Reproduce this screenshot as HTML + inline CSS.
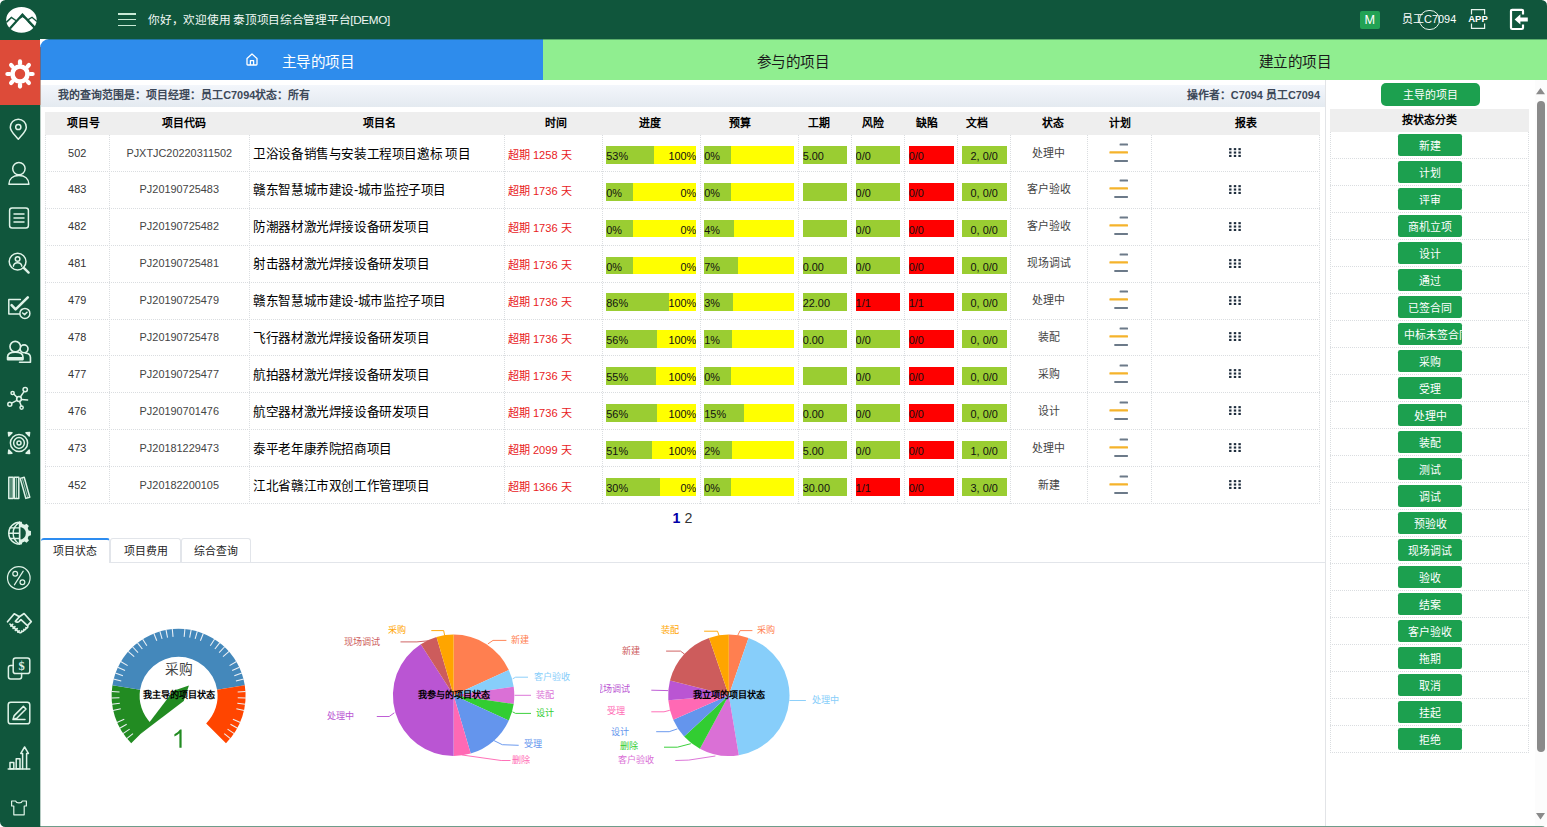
<!DOCTYPE html>
<html lang="zh-CN"><head><meta charset="utf-8"><title>泰顶项目综合管理平台</title>
<style>
html,body{margin:0;padding:0;background:#fff;}
body{width:1547px;height:827px;overflow:hidden;position:relative;font-family:"Liberation Sans",sans-serif;font-size:10.9px;color:#333;}
#app{position:absolute;left:0;top:0;width:1547px;height:827px;border-radius:5.5px;overflow:hidden;background:#fff;}
.abs{position:absolute;}
#hdr{position:absolute;left:0;top:0;width:1547px;height:39px;background:#10563c;}
#side{position:absolute;left:0;top:39px;width:40px;height:788px;background:#10563c;}
#act{position:absolute;left:0;top:39.8px;width:40px;height:65.2px;background:#dd4b39;}
#main{position:absolute;left:40px;top:39px;width:1507px;height:788px;background:#fff;border-top-left-radius:9px;overflow:hidden;}
.tab{position:absolute;top:0;height:40.8px;line-height:47.2px;font-size:14.6px;letter-spacing:-0.5px;text-align:center;white-space:nowrap;}
#info{position:absolute;left:0.6px;top:46px;width:1284.4px;height:21.5px;background:linear-gradient(#f3f6fb,#e4eaf0);font-weight:bold;font-size:10.9px;color:#3c4858;line-height:20.8px;white-space:nowrap;}
.th{position:absolute;top:0;height:23px;line-height:22.3px;font-weight:bold;color:#000;font-size:10.9px;text-align:center;white-space:nowrap;transform:translateX(-50%);}
.row{position:absolute;left:0;width:1275px;height:36.9px;}
.c{position:absolute;top:0;height:36.9px;line-height:37.7px;white-space:nowrap;overflow:hidden;}
.ctr{text-align:center;}
.bar{position:absolute;top:11.3px;height:17.8px;line-height:21.4px;font-size:10.9px;color:#111;white-space:nowrap;overflow:hidden;}
.g{background:#9acd32;} .y{background:#ffff00;} .r{background:#ff0000;}
.hl{position:absolute;left:0;height:0;border-top:1px dotted #dadde0;}
.vl{position:absolute;width:0;border-left:1px dotted #dadde0;}
.btn{position:absolute;background:#1ca04f;color:#fff;border-radius:2.2px;text-align:center;font-size:10.9px;white-space:nowrap;overflow:hidden;}
.stab{position:absolute;top:0;height:23.6px;line-height:24.6px;text-align:center;font-size:10.9px;color:#222;box-sizing:border-box;border:1px solid #e2e5ea;border-bottom:none;border-radius:3px 3px 0 0;background:#fff;white-space:nowrap;}
svg{position:absolute;overflow:visible;}
.pl{font-size:9.1px;white-space:nowrap;position:absolute;line-height:10px;height:10px;}
</style></head><body><div id="app">

<div id="hdr">
<svg style="left:0;top:0" width="42" height="40" viewBox="0 0 42 40">
<ellipse cx="21.45" cy="19.85" rx="15.3" ry="12.85" fill="#fff"/>
<g fill="none" stroke="#10563c" stroke-linejoin="miter">
<path d="M9.9 28.4 L22.45 14.6 L34.6 27.6" stroke-width="2.3"/>
<path d="M21.2 15.6 L22.45 13.9 L23.8 15.7 L24.6 18.2 L22.5 16.9 L20.3 18.4 Z" fill="#10563c" stroke-width="0.6"/>
<path d="M6.3 22.4 L11.4 17.5 L16.6 21" stroke-width="1.5"/>
<path d="M27.9 19.9 L32 17.3 L36.9 21.6" stroke-width="1.3"/>
<path d="M28.2 21.2 L33.4 26.2" stroke-width="1.6"/>
</g>
</svg>
<div class="abs" style="left:118.4px;top:13.3px;width:18px;height:1.4px;background:#c9ead6"></div>
<div class="abs" style="left:118.4px;top:19px;width:18px;height:1.4px;background:#c9ead6"></div>
<div class="abs" style="left:118.4px;top:24.6px;width:18px;height:1.4px;background:#c9ead6"></div>
<div class="abs" style="left:148.4px;top:0;height:39px;line-height:39px;color:#f1f8f4;font-size:11.7px;letter-spacing:-0.3px;white-space:nowrap">你好，欢迎使用 泰顶项目综合管理平台[DEMO]</div>
<div class="abs" style="left:1359.6px;top:10.8px;width:20.6px;height:18px;background:#22a254;border-radius:2px;color:#fff;font-size:12.7px;line-height:18.5px;text-align:center">M</div>
<div class="abs" style="left:1402.1px;top:0;height:39px;line-height:38.6px;color:#fff;font-size:10.9px;white-space:nowrap">员工C7094</div>
<div class="abs" style="left:1419.2px;top:9.6px;width:18.4px;height:18.4px;border:1px solid #e8f5ee;border-radius:50%"></div>
<svg style="left:1467px;top:8px" width="23" height="22" viewBox="0 0 23 22">
<path d="M4.5 6.5 V1.6 H17.6 V6.5 M4.5 15.5 V20.4 H17.6 V15.5" fill="none" stroke="#e8f5ee" stroke-width="1.2"/>
<text x="11" y="14" font-family="Liberation Sans, sans-serif" font-size="8.6" font-weight="bold" fill="#fff" text-anchor="middle" textLength="19.5" lengthAdjust="spacingAndGlyphs">APP</text>
</svg>
<svg style="left:1509px;top:8px" width="20" height="23" viewBox="0 0 20 23">
<path d="M14 6.6 V3 Q14 1.8 12.8 1.8 H3.2 Q2 1.8 2 3 V19.8 Q2 21 3.2 21 H12.8 Q14 21 14 19.8 V16.4" fill="none" stroke="#fff" stroke-width="2.2"/>
<path d="M5.6 11.4 L11.4 6.2 V9.4 H18.8 V13.4 H11.4 V16.6 Z" fill="#fff"/>
</svg>
</div>
<div id="side"></div><div id="act"></div>
<svg style="left:6.9px;top:60.5px" width="26" height="26" viewBox="0 0 26 26"><rect x="10.9" y="-1.7" width="4.2" height="6.4" rx="2.1" fill="#fff" stroke="none" transform="rotate(0 13 13)"/><rect x="10.9" y="-1.7" width="4.2" height="6.4" rx="2.1" fill="#fff" stroke="none" transform="rotate(45 13 13)"/><rect x="10.9" y="-1.7" width="4.2" height="6.4" rx="2.1" fill="#fff" stroke="none" transform="rotate(90 13 13)"/><rect x="10.9" y="-1.7" width="4.2" height="6.4" rx="2.1" fill="#fff" stroke="none" transform="rotate(135 13 13)"/><rect x="10.9" y="-1.7" width="4.2" height="6.4" rx="2.1" fill="#fff" stroke="none" transform="rotate(180 13 13)"/><rect x="10.9" y="-1.7" width="4.2" height="6.4" rx="2.1" fill="#fff" stroke="none" transform="rotate(225 13 13)"/><rect x="10.9" y="-1.7" width="4.2" height="6.4" rx="2.1" fill="#fff" stroke="none" transform="rotate(270 13 13)"/><rect x="10.9" y="-1.7" width="4.2" height="6.4" rx="2.1" fill="#fff" stroke="none" transform="rotate(315 13 13)"/><circle cx="13" cy="13" r="7.5" fill="none" stroke="#fff" stroke-width="4.6"/></svg>
<svg style="left:6.1px;top:114.0px" width="26" height="26" viewBox="0 0 26 26" fill="none" stroke="#dff3e8" stroke-width="1.5" stroke-linecap="round" stroke-linejoin="round"><path d="M12.3 25.2 C8 20.2 4.3 17.2 4.3 13.2 A8 8 0 0 1 20.3 13.2 C20.3 17.2 16.6 20.2 12.3 25.2 Z"/><circle cx="12.3" cy="13" r="2.6"/></svg>
<svg style="left:6.1px;top:160.0px" width="26" height="26" viewBox="0 0 26 26" fill="none" stroke="#dff3e8" stroke-width="1.5" stroke-linecap="round" stroke-linejoin="round"><circle cx="12.9" cy="8.6" r="6.2"/><path d="M2.9 24.2 C3.1 18.8 7 15.6 12.9 15.6 C18.8 15.6 22.7 18.8 22.9 24.2 Z"/></svg>
<svg style="left:6.1px;top:205.0px" width="26" height="26" viewBox="0 0 26 26" fill="none" stroke="#dff3e8" stroke-width="1.5" stroke-linecap="round" stroke-linejoin="round"><rect x="3.6" y="3" width="18.8" height="20" rx="2.5"/><path d="M8 9 H18 M8 13 H18 M8 17 H18"/></svg>
<svg style="left:6.1px;top:250.0px" width="26" height="26" viewBox="0 0 26 26" fill="none" stroke="#dff3e8" stroke-width="1.5" stroke-linecap="round" stroke-linejoin="round"><circle cx="11.6" cy="11.6" r="8.4"/><path d="M17.8 17.8 L22.6 22.6" stroke-width="2.4"/><circle cx="11.6" cy="9" r="2.3"/><path d="M7.4 16.2 C7.8 13.6 9.4 12.8 11.6 12.8 C13.8 12.8 15.4 13.6 15.8 16.2"/></svg>
<svg style="left:6.1px;top:295.0px" width="26" height="26" viewBox="0 0 26 26" fill="none" stroke="#dff3e8" stroke-width="1.5" stroke-linecap="round" stroke-linejoin="round"><path d="M15.6 14.6 V19 H2.8 V4.6 H14.4"/><path d="M5.6 10.2 L9.6 14.4 L21.8 2.4" stroke-width="2.6"/><circle cx="18.9" cy="18.4" r="5" fill="#10563c"/><path d="M16.6 18 L18.6 19.6 L21 17.2"/></svg>
<svg style="left:6.1px;top:340.0px" width="26" height="26" viewBox="0 0 26 26" fill="none" stroke="#dff3e8" stroke-width="1.5" stroke-linecap="round" stroke-linejoin="round"><g transform="translate(13 13) scale(1.1) translate(-13 -13.4)"><circle cx="17.6" cy="9.6" r="3.6"/><path d="M13.5 21.8 H23.4 V17.6 C23.4 15 21.6 13.6 19 13.6"/><circle cx="9.6" cy="7.6" r="4.8" fill="#10563c"/><path d="M2.6 19.4 V17 C2.6 14 5.4 12.6 9.6 12.6 C13.8 12.6 16.6 14 16.6 17 V19.4 Z" fill="#10563c"/><path d="M3 18 H16.2" stroke-width="1.8"/></g></svg>
<svg style="left:6.1px;top:385.0px" width="26" height="26" viewBox="0 0 26 26" fill="none" stroke="#dff3e8" stroke-width="1.5" stroke-linecap="round" stroke-linejoin="round"><circle cx="13" cy="14" r="2.4"/><circle cx="19.2" cy="4.6" r="2.2"/><circle cx="6.6" cy="8" r="1.6"/><circle cx="3.8" cy="19.2" r="2"/><circle cx="15.6" cy="22.6" r="1.6"/><path d="M14.4 12 L18 6.6 M11.2 12.6 L7.8 9 M11 15.4 L5.6 18.2 M13.6 16.4 L15.2 21 M15.4 14.4 L21.6 15"/></svg>
<svg style="left:6.1px;top:430.0px" width="26" height="26" viewBox="0 0 26 26" fill="none" stroke="#dff3e8" stroke-width="1.5" stroke-linecap="round" stroke-linejoin="round"><circle cx="13" cy="13" r="8.6"/><circle cx="13" cy="13" r="5.4"/><circle cx="13" cy="13" r="2"/><path d="M2.4 2.4 L6 2.8 L2.8 6 Z M23.6 2.4 L20 2.8 L23.2 6 Z M2.4 23.6 L6 23.2 L2.8 20 Z M23.6 23.6 L20 23.2 L23.2 20 Z" fill="#dff3e8"/></svg>
<svg style="left:6.1px;top:475.0px" width="26" height="26" viewBox="0 0 26 26" fill="none" stroke="#dff3e8" stroke-width="1.5" stroke-linecap="round" stroke-linejoin="round"><rect x="2.8" y="2.2" width="4.4" height="21.4"/><rect x="8.4" y="2.2" width="4.4" height="21.4"/><path d="M14.2 3.4 L18.2 2.2 L23.8 22.2 L19.8 23.4 Z"/><path d="M5 3 V23 M10.6 3 V23 M16.4 3.6 L21.6 22.4" stroke-width="0.9" opacity="0.75"/></svg>
<svg style="left:6.1px;top:520.0px" width="26" height="26" viewBox="0 0 26 26" fill="none" stroke="#dff3e8" stroke-width="1.2" stroke-linecap="round" stroke-linejoin="round"><g transform="translate(13.6 13.2) scale(1.16) translate(-13 -13)"><path d="M13 3.6 A9.4 9.4 0 0 0 13 22.4 Z"/><path d="M13 3.6 V22.4 M3.6 13 H13 M4.8 8.4 H13 M4.8 17.6 H13 M13 3.6 C9 6 7.4 9.6 7.4 13 C7.4 16.4 9 20 13 22.4"/><path d="M13 3.2 H14.8 L15.4 5 L17.4 5.8 L19 4.8 L21 6.8 L20 8.6 L20.8 10.6 L22.8 11.2 V14.8 L20.8 15.4 L20 17.4 L21 19.2 L19 21.2 L17.4 20.2 L15.4 21 L14.8 22.8 H13 V18.4 A5.4 5.4 0 0 0 13 7.6 Z" fill="#dff3e8" stroke="none"/></g></svg>
<svg style="left:6.1px;top:565.0px" width="26" height="26" viewBox="0 0 26 26" fill="none" stroke="#dff3e8" stroke-width="1.2" stroke-linecap="round" stroke-linejoin="round"><circle cx="12.8" cy="13" r="11.3"/><circle cx="9.2" cy="8.8" r="2.4"/><circle cx="16.4" cy="17.2" r="2.4"/><path d="M17.2 6.2 L8.4 19.8"/></svg>
<svg style="left:6.1px;top:610.0px" width="26" height="26" viewBox="0 0 26 26" fill="none" stroke="#dff3e8" stroke-width="1.5" stroke-linecap="round" stroke-linejoin="round"><g transform="translate(13.4 13.4) scale(1.12) translate(-13 -13)"><path d="M2.4 11.6 L8.4 4.4 L13 7 L17.2 4.2 L23.6 11.4 L20.6 14.6"/><path d="M13 7 L9.4 11.2 C10.6 12.4 12.2 12 13.2 10.8 L14.4 9.6 L20.4 15.2 C21 16.4 19.8 17.4 18.8 16.8 C19.4 18 18 19 17 18.4 C17.4 19.6 16.2 20.6 15 19.8 C15.2 21 14 21.8 12.8 21 L4.6 13.6"/><path d="M5.4 15.4 L7 13.8 M7.4 17.4 L9 15.8 M9.4 19.2 L11 17.6 M11.6 20.8 L12.8 19.6"/></g></svg>
<svg style="left:6.1px;top:655.0px" width="26" height="26" viewBox="0 0 26 26" fill="none" stroke="#dff3e8" stroke-width="1.5" stroke-linecap="round" stroke-linejoin="round"><rect x="7.2" y="3" width="16.6" height="15.6" rx="2.4"/><path d="M7.2 10.6 H4.6 Q2.4 10.6 2.4 12.8 V21.8 Q2.4 24 4.6 24 H13.4 Q15.6 24 15.6 21.8 V18.6"/><text x="15.5" y="15.2" font-family="Liberation Serif, serif" font-size="12.5" font-weight="bold" fill="#dff3e8" stroke="none" text-anchor="middle">$</text></svg>
<svg style="left:6.1px;top:700.0px" width="26" height="26" viewBox="0 0 26 26" fill="none" stroke="#dff3e8" stroke-width="1.5" stroke-linecap="round" stroke-linejoin="round"><rect x="2.2" y="2.2" width="21.6" height="21.6" rx="2.6" stroke-width="1.5"/><path d="M7 19.4 L8.2 15.6 L17.4 6.4 L20 9 L10.8 18.2 Z M7 19.4 H19"/></svg>
<svg style="left:6.1px;top:745.0px" width="26" height="26" viewBox="0 0 26 26" fill="none" stroke="#dff3e8" stroke-width="1.5" stroke-linecap="round" stroke-linejoin="round"><path d="M2.2 24 H23.8"/><rect x="4" y="17.4" width="3.8" height="6.4"/><rect x="10.2" y="13.8" width="3.8" height="10"/><path d="M16.6 23.8 V8.4 H14.8 L18.6 2 L22.4 8.4 H20.6 V23.8"/></svg>
<svg style="left:6.1px;top:794.0px" width="26" height="26" viewBox="0 0 26 26" fill="none" stroke="#dff3e8" stroke-width="1.2" stroke-linecap="round" stroke-linejoin="round"><path d="M5.6 7 H9.6 C10.4 9.6 15.6 9.6 16.4 7 H20.4 V12 H18.2 V20.8 H7.8 V12 H5.6 Z"/></svg>
<div id="main">
<div class="tab" style="left:0;width:503px;background:#2e8cec;color:#fff"><span class="abs" style="left:241.6px">主导的项目</span></div>
<svg style="left:206.1px;top:14px" width="12" height="13" viewBox="0 0 12 13" fill="none" stroke="#fff" stroke-width="1.3" stroke-linejoin="round"><path d="M1 5.4 L6 1 L11 5.4 V11.2 Q11 12 10.2 12 H1.8 Q1 12 1 11.2 Z"/><path d="M4.4 12 V7.6 H7.6 V12"/></svg>
<div class="tab" style="left:503px;width:502px;background:#90ee90;color:#1a1a1a;text-indent:-1.6px">参与的项目</div>
<div class="tab" style="left:1005px;width:502px;background:#90ee90;color:#1a1a1a;text-indent:-1.6px">建立的项目</div>
<div id="info"><span class="abs" style="left:17.6px">我的查询范围是：项目经理：员工C7094状态：所有</span><span class="abs" style="right:5px">操作者：C7094 员工C7094</span></div>
<div class="abs" style="left:5.0px;top:72.6px;width:1275px;height:393.0px">
<div class="abs" style="left:0;top:0;width:1275px;height:23.0px;background:#eee"></div>
<div class="th" style="left:38.0px">项目号</div>
<div class="th" style="left:139.0px">项目代码</div>
<div class="th" style="left:334.7px">项目名</div>
<div class="th" style="left:511.0px">时间</div>
<div class="th" style="left:605.0px">进度</div>
<div class="th" style="left:695.2px">预算</div>
<div class="th" style="left:774.1px">工期</div>
<div class="th" style="left:828.2px">风险</div>
<div class="th" style="left:882.0px">缺陷</div>
<div class="th" style="left:932.0px">文档</div>
<div class="th" style="left:1007.7px">状态</div>
<div class="th" style="left:1075.0px">计划</div>
<div class="th" style="left:1201.0px">报表</div>
<div class="row" style="top:23.00px">
<div class="c ctr" style="left:0.0px;width:64.4px;color:#333">502</div>
<div class="c ctr" style="left:64.4px;width:139.8px;color:#444">PJXTJC20220311502</div>
<div class="c" style="left:208.3px;width:250.0px;color:#000;font-size:12.6px;letter-spacing:-0.4px;line-height:39.6px">卫浴设备销售与安装工程项目邀标 项目</div>
<div class="c" style="left:462.8px;width:93.8px;color:#e8211d;line-height:41.8px;font-size:11.1px">超期 1258 天</div>
<div class="bar y" style="left:561.3px;width:90px"></div>
<div class="bar g" style="left:561.3px;width:47.5px"></div>
<div class="bar" style="left:561.3px;width:90px;text-align:right">100%</div>
<div class="bar" style="left:561.3px;width:90px">53%</div>
<div class="bar y" style="left:659.3px;width:90px"></div>
<div class="bar g" style="left:659.3px;width:27.0px">0%</div>
<div class="bar g" style="left:757.7px;width:44.8px">5.00</div>
<div class="bar g" style="left:810.6px;width:44.8px">0/0</div>
<div class="bar r" style="left:863.7px;width:45px">0/0</div>
<div class="bar g" style="left:916.8px;width:44.8px;text-align:center">2, 0/0</div>
<div class="c ctr" style="left:965.6px;width:76.8px;color:#444">处理中</div>
<svg style="left:1042.4px;top:0" width="42" height="36" viewBox="0 0 42 36"><rect x="32.6" y="8.5" width="8.4" height="2" rx="0.6" fill="#6c7a89"/><rect x="22.4" y="16.3" width="18.6" height="2.2" rx="0.6" fill="#f5b32b"/><rect x="27.2" y="24.9" width="13.8" height="2" rx="0.6" fill="#6c7a89"/></svg>
<svg style="left:1184.2px;top:13.4px" width="12" height="9" viewBox="0 0 12 9"><rect x="0.1" y="0.1" width="2.4" height="2.1" fill="#1f2d3d"/><rect x="0.1" y="3.5" width="2.4" height="2.1" fill="#1f2d3d"/><rect x="0.1" y="6.9" width="2.4" height="2.1" fill="#1f2d3d"/><rect x="4.8" y="0.1" width="2.4" height="2.1" fill="#1f2d3d"/><rect x="4.8" y="3.5" width="2.4" height="2.1" fill="#1f2d3d"/><rect x="4.8" y="6.9" width="2.4" height="2.1" fill="#1f2d3d"/><rect x="9.4" y="0.1" width="2.4" height="2.1" fill="#1f2d3d"/><rect x="9.4" y="3.5" width="2.4" height="2.1" fill="#1f2d3d"/><rect x="9.4" y="6.9" width="2.4" height="2.1" fill="#1f2d3d"/></svg>
</div>
<div class="row" style="top:59.90px">
<div class="c ctr" style="left:0.0px;width:64.4px;color:#333">483</div>
<div class="c ctr" style="left:64.4px;width:139.8px;color:#444">PJ20190725483</div>
<div class="c" style="left:208.3px;width:250.0px;color:#000;font-size:12.6px;letter-spacing:-0.4px;line-height:39.6px">赣东智慧城市建设-城市监控子项目</div>
<div class="c" style="left:462.8px;width:93.8px;color:#e8211d;line-height:41.8px;font-size:11.1px">超期 1736 天</div>
<div class="bar y" style="left:561.3px;width:90px"></div>
<div class="bar g" style="left:561.3px;width:27.0px"></div>
<div class="bar" style="left:561.3px;width:90px;text-align:right">0%</div>
<div class="bar" style="left:561.3px;width:90px">0%</div>
<div class="bar y" style="left:659.3px;width:90px"></div>
<div class="bar g" style="left:659.3px;width:27.0px">0%</div>
<div class="bar g" style="left:757.7px;width:44.8px"></div>
<div class="bar g" style="left:810.6px;width:44.8px">0/0</div>
<div class="bar r" style="left:863.7px;width:45px">0/0</div>
<div class="bar g" style="left:916.8px;width:44.8px;text-align:center">0, 0/0</div>
<div class="c ctr" style="left:965.6px;width:76.8px;color:#444">客户验收</div>
<svg style="left:1042.4px;top:0" width="42" height="36" viewBox="0 0 42 36"><rect x="32.6" y="8.5" width="8.4" height="2" rx="0.6" fill="#6c7a89"/><rect x="22.4" y="16.3" width="18.6" height="2.2" rx="0.6" fill="#f5b32b"/><rect x="27.2" y="24.9" width="13.8" height="2" rx="0.6" fill="#6c7a89"/></svg>
<svg style="left:1184.2px;top:13.4px" width="12" height="9" viewBox="0 0 12 9"><rect x="0.1" y="0.1" width="2.4" height="2.1" fill="#1f2d3d"/><rect x="0.1" y="3.5" width="2.4" height="2.1" fill="#1f2d3d"/><rect x="0.1" y="6.9" width="2.4" height="2.1" fill="#1f2d3d"/><rect x="4.8" y="0.1" width="2.4" height="2.1" fill="#1f2d3d"/><rect x="4.8" y="3.5" width="2.4" height="2.1" fill="#1f2d3d"/><rect x="4.8" y="6.9" width="2.4" height="2.1" fill="#1f2d3d"/><rect x="9.4" y="0.1" width="2.4" height="2.1" fill="#1f2d3d"/><rect x="9.4" y="3.5" width="2.4" height="2.1" fill="#1f2d3d"/><rect x="9.4" y="6.9" width="2.4" height="2.1" fill="#1f2d3d"/></svg>
</div>
<div class="row" style="top:96.80px">
<div class="c ctr" style="left:0.0px;width:64.4px;color:#333">482</div>
<div class="c ctr" style="left:64.4px;width:139.8px;color:#444">PJ20190725482</div>
<div class="c" style="left:208.3px;width:250.0px;color:#000;font-size:12.6px;letter-spacing:-0.4px;line-height:39.6px">防潮器材激光焊接设备研发项目</div>
<div class="c" style="left:462.8px;width:93.8px;color:#e8211d;line-height:41.8px;font-size:11.1px">超期 1736 天</div>
<div class="bar y" style="left:561.3px;width:90px"></div>
<div class="bar g" style="left:561.3px;width:27.0px"></div>
<div class="bar" style="left:561.3px;width:90px;text-align:right">0%</div>
<div class="bar" style="left:561.3px;width:90px">0%</div>
<div class="bar y" style="left:659.3px;width:90px"></div>
<div class="bar g" style="left:659.3px;width:30.2px">4%</div>
<div class="bar g" style="left:757.7px;width:44.8px"></div>
<div class="bar g" style="left:810.6px;width:44.8px">0/0</div>
<div class="bar r" style="left:863.7px;width:45px">0/0</div>
<div class="bar g" style="left:916.8px;width:44.8px;text-align:center">0, 0/0</div>
<div class="c ctr" style="left:965.6px;width:76.8px;color:#444">客户验收</div>
<svg style="left:1042.4px;top:0" width="42" height="36" viewBox="0 0 42 36"><rect x="32.6" y="8.5" width="8.4" height="2" rx="0.6" fill="#6c7a89"/><rect x="22.4" y="16.3" width="18.6" height="2.2" rx="0.6" fill="#f5b32b"/><rect x="27.2" y="24.9" width="13.8" height="2" rx="0.6" fill="#6c7a89"/></svg>
<svg style="left:1184.2px;top:13.4px" width="12" height="9" viewBox="0 0 12 9"><rect x="0.1" y="0.1" width="2.4" height="2.1" fill="#1f2d3d"/><rect x="0.1" y="3.5" width="2.4" height="2.1" fill="#1f2d3d"/><rect x="0.1" y="6.9" width="2.4" height="2.1" fill="#1f2d3d"/><rect x="4.8" y="0.1" width="2.4" height="2.1" fill="#1f2d3d"/><rect x="4.8" y="3.5" width="2.4" height="2.1" fill="#1f2d3d"/><rect x="4.8" y="6.9" width="2.4" height="2.1" fill="#1f2d3d"/><rect x="9.4" y="0.1" width="2.4" height="2.1" fill="#1f2d3d"/><rect x="9.4" y="3.5" width="2.4" height="2.1" fill="#1f2d3d"/><rect x="9.4" y="6.9" width="2.4" height="2.1" fill="#1f2d3d"/></svg>
</div>
<div class="row" style="top:133.70px">
<div class="c ctr" style="left:0.0px;width:64.4px;color:#333">481</div>
<div class="c ctr" style="left:64.4px;width:139.8px;color:#444">PJ20190725481</div>
<div class="c" style="left:208.3px;width:250.0px;color:#000;font-size:12.6px;letter-spacing:-0.4px;line-height:39.6px">射击器材激光焊接设备研发项目</div>
<div class="c" style="left:462.8px;width:93.8px;color:#e8211d;line-height:41.8px;font-size:11.1px">超期 1736 天</div>
<div class="bar y" style="left:561.3px;width:90px"></div>
<div class="bar g" style="left:561.3px;width:27.0px"></div>
<div class="bar" style="left:561.3px;width:90px;text-align:right">0%</div>
<div class="bar" style="left:561.3px;width:90px">0%</div>
<div class="bar y" style="left:659.3px;width:90px"></div>
<div class="bar g" style="left:659.3px;width:33.3px">7%</div>
<div class="bar g" style="left:757.7px;width:44.8px">0.00</div>
<div class="bar g" style="left:810.6px;width:44.8px">0/0</div>
<div class="bar r" style="left:863.7px;width:45px">0/0</div>
<div class="bar g" style="left:916.8px;width:44.8px;text-align:center">0, 0/0</div>
<div class="c ctr" style="left:965.6px;width:76.8px;color:#444">现场调试</div>
<svg style="left:1042.4px;top:0" width="42" height="36" viewBox="0 0 42 36"><rect x="32.6" y="8.5" width="8.4" height="2" rx="0.6" fill="#6c7a89"/><rect x="22.4" y="16.3" width="18.6" height="2.2" rx="0.6" fill="#f5b32b"/><rect x="27.2" y="24.9" width="13.8" height="2" rx="0.6" fill="#6c7a89"/></svg>
<svg style="left:1184.2px;top:13.4px" width="12" height="9" viewBox="0 0 12 9"><rect x="0.1" y="0.1" width="2.4" height="2.1" fill="#1f2d3d"/><rect x="0.1" y="3.5" width="2.4" height="2.1" fill="#1f2d3d"/><rect x="0.1" y="6.9" width="2.4" height="2.1" fill="#1f2d3d"/><rect x="4.8" y="0.1" width="2.4" height="2.1" fill="#1f2d3d"/><rect x="4.8" y="3.5" width="2.4" height="2.1" fill="#1f2d3d"/><rect x="4.8" y="6.9" width="2.4" height="2.1" fill="#1f2d3d"/><rect x="9.4" y="0.1" width="2.4" height="2.1" fill="#1f2d3d"/><rect x="9.4" y="3.5" width="2.4" height="2.1" fill="#1f2d3d"/><rect x="9.4" y="6.9" width="2.4" height="2.1" fill="#1f2d3d"/></svg>
</div>
<div class="row" style="top:170.60px">
<div class="c ctr" style="left:0.0px;width:64.4px;color:#333">479</div>
<div class="c ctr" style="left:64.4px;width:139.8px;color:#444">PJ20190725479</div>
<div class="c" style="left:208.3px;width:250.0px;color:#000;font-size:12.6px;letter-spacing:-0.4px;line-height:39.6px">赣东智慧城市建设-城市监控子项目</div>
<div class="c" style="left:462.8px;width:93.8px;color:#e8211d;line-height:41.8px;font-size:11.1px">超期 1736 天</div>
<div class="bar y" style="left:561.3px;width:90px"></div>
<div class="bar g" style="left:561.3px;width:63.1px"></div>
<div class="bar" style="left:561.3px;width:90px;text-align:right">100%</div>
<div class="bar" style="left:561.3px;width:90px">86%</div>
<div class="bar y" style="left:659.3px;width:90px"></div>
<div class="bar g" style="left:659.3px;width:28.9px">3%</div>
<div class="bar g" style="left:757.7px;width:44.8px">22.00</div>
<div class="bar r" style="left:810.6px;width:44.8px">1/1</div>
<div class="bar r" style="left:863.7px;width:45px">1/1</div>
<div class="bar g" style="left:916.8px;width:44.8px;text-align:center">0, 0/0</div>
<div class="c ctr" style="left:965.6px;width:76.8px;color:#444">处理中</div>
<svg style="left:1042.4px;top:0" width="42" height="36" viewBox="0 0 42 36"><rect x="32.6" y="8.5" width="8.4" height="2" rx="0.6" fill="#6c7a89"/><rect x="22.4" y="16.3" width="18.6" height="2.2" rx="0.6" fill="#f5b32b"/><rect x="27.2" y="24.9" width="13.8" height="2" rx="0.6" fill="#6c7a89"/></svg>
<svg style="left:1184.2px;top:13.4px" width="12" height="9" viewBox="0 0 12 9"><rect x="0.1" y="0.1" width="2.4" height="2.1" fill="#1f2d3d"/><rect x="0.1" y="3.5" width="2.4" height="2.1" fill="#1f2d3d"/><rect x="0.1" y="6.9" width="2.4" height="2.1" fill="#1f2d3d"/><rect x="4.8" y="0.1" width="2.4" height="2.1" fill="#1f2d3d"/><rect x="4.8" y="3.5" width="2.4" height="2.1" fill="#1f2d3d"/><rect x="4.8" y="6.9" width="2.4" height="2.1" fill="#1f2d3d"/><rect x="9.4" y="0.1" width="2.4" height="2.1" fill="#1f2d3d"/><rect x="9.4" y="3.5" width="2.4" height="2.1" fill="#1f2d3d"/><rect x="9.4" y="6.9" width="2.4" height="2.1" fill="#1f2d3d"/></svg>
</div>
<div class="row" style="top:207.50px">
<div class="c ctr" style="left:0.0px;width:64.4px;color:#333">478</div>
<div class="c ctr" style="left:64.4px;width:139.8px;color:#444">PJ20190725478</div>
<div class="c" style="left:208.3px;width:250.0px;color:#000;font-size:12.6px;letter-spacing:-0.4px;line-height:39.6px">飞行器材激光焊接设备研发项目</div>
<div class="c" style="left:462.8px;width:93.8px;color:#e8211d;line-height:41.8px;font-size:11.1px">超期 1736 天</div>
<div class="bar y" style="left:561.3px;width:90px"></div>
<div class="bar g" style="left:561.3px;width:50.6px"></div>
<div class="bar" style="left:561.3px;width:90px;text-align:right">100%</div>
<div class="bar" style="left:561.3px;width:90px">56%</div>
<div class="bar y" style="left:659.3px;width:90px"></div>
<div class="bar g" style="left:659.3px;width:27.8px">1%</div>
<div class="bar g" style="left:757.7px;width:44.8px">0.00</div>
<div class="bar g" style="left:810.6px;width:44.8px">0/0</div>
<div class="bar r" style="left:863.7px;width:45px">0/0</div>
<div class="bar g" style="left:916.8px;width:44.8px;text-align:center">0, 0/0</div>
<div class="c ctr" style="left:965.6px;width:76.8px;color:#444">装配</div>
<svg style="left:1042.4px;top:0" width="42" height="36" viewBox="0 0 42 36"><rect x="32.6" y="8.5" width="8.4" height="2" rx="0.6" fill="#6c7a89"/><rect x="22.4" y="16.3" width="18.6" height="2.2" rx="0.6" fill="#f5b32b"/><rect x="27.2" y="24.9" width="13.8" height="2" rx="0.6" fill="#6c7a89"/></svg>
<svg style="left:1184.2px;top:13.4px" width="12" height="9" viewBox="0 0 12 9"><rect x="0.1" y="0.1" width="2.4" height="2.1" fill="#1f2d3d"/><rect x="0.1" y="3.5" width="2.4" height="2.1" fill="#1f2d3d"/><rect x="0.1" y="6.9" width="2.4" height="2.1" fill="#1f2d3d"/><rect x="4.8" y="0.1" width="2.4" height="2.1" fill="#1f2d3d"/><rect x="4.8" y="3.5" width="2.4" height="2.1" fill="#1f2d3d"/><rect x="4.8" y="6.9" width="2.4" height="2.1" fill="#1f2d3d"/><rect x="9.4" y="0.1" width="2.4" height="2.1" fill="#1f2d3d"/><rect x="9.4" y="3.5" width="2.4" height="2.1" fill="#1f2d3d"/><rect x="9.4" y="6.9" width="2.4" height="2.1" fill="#1f2d3d"/></svg>
</div>
<div class="row" style="top:244.40px">
<div class="c ctr" style="left:0.0px;width:64.4px;color:#333">477</div>
<div class="c ctr" style="left:64.4px;width:139.8px;color:#444">PJ20190725477</div>
<div class="c" style="left:208.3px;width:250.0px;color:#000;font-size:12.6px;letter-spacing:-0.4px;line-height:39.6px">航拍器材激光焊接设备研发项目</div>
<div class="c" style="left:462.8px;width:93.8px;color:#e8211d;line-height:41.8px;font-size:11.1px">超期 1736 天</div>
<div class="bar y" style="left:561.3px;width:90px"></div>
<div class="bar g" style="left:561.3px;width:49.5px"></div>
<div class="bar" style="left:561.3px;width:90px;text-align:right">100%</div>
<div class="bar" style="left:561.3px;width:90px">55%</div>
<div class="bar y" style="left:659.3px;width:90px"></div>
<div class="bar g" style="left:659.3px;width:27.0px">0%</div>
<div class="bar g" style="left:757.7px;width:44.8px"></div>
<div class="bar g" style="left:810.6px;width:44.8px">0/0</div>
<div class="bar r" style="left:863.7px;width:45px">0/0</div>
<div class="bar g" style="left:916.8px;width:44.8px;text-align:center">0, 0/0</div>
<div class="c ctr" style="left:965.6px;width:76.8px;color:#444">采购</div>
<svg style="left:1042.4px;top:0" width="42" height="36" viewBox="0 0 42 36"><rect x="32.6" y="8.5" width="8.4" height="2" rx="0.6" fill="#6c7a89"/><rect x="22.4" y="16.3" width="18.6" height="2.2" rx="0.6" fill="#f5b32b"/><rect x="27.2" y="24.9" width="13.8" height="2" rx="0.6" fill="#6c7a89"/></svg>
<svg style="left:1184.2px;top:13.4px" width="12" height="9" viewBox="0 0 12 9"><rect x="0.1" y="0.1" width="2.4" height="2.1" fill="#1f2d3d"/><rect x="0.1" y="3.5" width="2.4" height="2.1" fill="#1f2d3d"/><rect x="0.1" y="6.9" width="2.4" height="2.1" fill="#1f2d3d"/><rect x="4.8" y="0.1" width="2.4" height="2.1" fill="#1f2d3d"/><rect x="4.8" y="3.5" width="2.4" height="2.1" fill="#1f2d3d"/><rect x="4.8" y="6.9" width="2.4" height="2.1" fill="#1f2d3d"/><rect x="9.4" y="0.1" width="2.4" height="2.1" fill="#1f2d3d"/><rect x="9.4" y="3.5" width="2.4" height="2.1" fill="#1f2d3d"/><rect x="9.4" y="6.9" width="2.4" height="2.1" fill="#1f2d3d"/></svg>
</div>
<div class="row" style="top:281.30px">
<div class="c ctr" style="left:0.0px;width:64.4px;color:#333">476</div>
<div class="c ctr" style="left:64.4px;width:139.8px;color:#444">PJ20190701476</div>
<div class="c" style="left:208.3px;width:250.0px;color:#000;font-size:12.6px;letter-spacing:-0.4px;line-height:39.6px">航空器材激光焊接设备研发项目</div>
<div class="c" style="left:462.8px;width:93.8px;color:#e8211d;line-height:41.8px;font-size:11.1px">超期 1736 天</div>
<div class="bar y" style="left:561.3px;width:90px"></div>
<div class="bar g" style="left:561.3px;width:50.6px"></div>
<div class="bar" style="left:561.3px;width:90px;text-align:right">100%</div>
<div class="bar" style="left:561.3px;width:90px">56%</div>
<div class="bar y" style="left:659.3px;width:90px"></div>
<div class="bar g" style="left:659.3px;width:39.5px">15%</div>
<div class="bar g" style="left:757.7px;width:44.8px">0.00</div>
<div class="bar g" style="left:810.6px;width:44.8px">0/0</div>
<div class="bar r" style="left:863.7px;width:45px">0/0</div>
<div class="bar g" style="left:916.8px;width:44.8px;text-align:center">0, 0/0</div>
<div class="c ctr" style="left:965.6px;width:76.8px;color:#444">设计</div>
<svg style="left:1042.4px;top:0" width="42" height="36" viewBox="0 0 42 36"><rect x="32.6" y="8.5" width="8.4" height="2" rx="0.6" fill="#6c7a89"/><rect x="22.4" y="16.3" width="18.6" height="2.2" rx="0.6" fill="#f5b32b"/><rect x="27.2" y="24.9" width="13.8" height="2" rx="0.6" fill="#6c7a89"/></svg>
<svg style="left:1184.2px;top:13.4px" width="12" height="9" viewBox="0 0 12 9"><rect x="0.1" y="0.1" width="2.4" height="2.1" fill="#1f2d3d"/><rect x="0.1" y="3.5" width="2.4" height="2.1" fill="#1f2d3d"/><rect x="0.1" y="6.9" width="2.4" height="2.1" fill="#1f2d3d"/><rect x="4.8" y="0.1" width="2.4" height="2.1" fill="#1f2d3d"/><rect x="4.8" y="3.5" width="2.4" height="2.1" fill="#1f2d3d"/><rect x="4.8" y="6.9" width="2.4" height="2.1" fill="#1f2d3d"/><rect x="9.4" y="0.1" width="2.4" height="2.1" fill="#1f2d3d"/><rect x="9.4" y="3.5" width="2.4" height="2.1" fill="#1f2d3d"/><rect x="9.4" y="6.9" width="2.4" height="2.1" fill="#1f2d3d"/></svg>
</div>
<div class="row" style="top:318.20px">
<div class="c ctr" style="left:0.0px;width:64.4px;color:#333">473</div>
<div class="c ctr" style="left:64.4px;width:139.8px;color:#444">PJ20181229473</div>
<div class="c" style="left:208.3px;width:250.0px;color:#000;font-size:12.6px;letter-spacing:-0.4px;line-height:39.6px">泰平老年康养院招商项目</div>
<div class="c" style="left:462.8px;width:93.8px;color:#e8211d;line-height:41.8px;font-size:11.1px">超期 2099 天</div>
<div class="bar y" style="left:561.3px;width:90px"></div>
<div class="bar g" style="left:561.3px;width:45.9px"></div>
<div class="bar" style="left:561.3px;width:90px;text-align:right">100%</div>
<div class="bar" style="left:561.3px;width:90px">51%</div>
<div class="bar y" style="left:659.3px;width:90px"></div>
<div class="bar g" style="left:659.3px;width:27.9px">2%</div>
<div class="bar g" style="left:757.7px;width:44.8px">5.00</div>
<div class="bar g" style="left:810.6px;width:44.8px">0/0</div>
<div class="bar r" style="left:863.7px;width:45px">0/0</div>
<div class="bar g" style="left:916.8px;width:44.8px;text-align:center">1, 0/0</div>
<div class="c ctr" style="left:965.6px;width:76.8px;color:#444">处理中</div>
<svg style="left:1042.4px;top:0" width="42" height="36" viewBox="0 0 42 36"><rect x="32.6" y="8.5" width="8.4" height="2" rx="0.6" fill="#6c7a89"/><rect x="22.4" y="16.3" width="18.6" height="2.2" rx="0.6" fill="#f5b32b"/><rect x="27.2" y="24.9" width="13.8" height="2" rx="0.6" fill="#6c7a89"/></svg>
<svg style="left:1184.2px;top:13.4px" width="12" height="9" viewBox="0 0 12 9"><rect x="0.1" y="0.1" width="2.4" height="2.1" fill="#1f2d3d"/><rect x="0.1" y="3.5" width="2.4" height="2.1" fill="#1f2d3d"/><rect x="0.1" y="6.9" width="2.4" height="2.1" fill="#1f2d3d"/><rect x="4.8" y="0.1" width="2.4" height="2.1" fill="#1f2d3d"/><rect x="4.8" y="3.5" width="2.4" height="2.1" fill="#1f2d3d"/><rect x="4.8" y="6.9" width="2.4" height="2.1" fill="#1f2d3d"/><rect x="9.4" y="0.1" width="2.4" height="2.1" fill="#1f2d3d"/><rect x="9.4" y="3.5" width="2.4" height="2.1" fill="#1f2d3d"/><rect x="9.4" y="6.9" width="2.4" height="2.1" fill="#1f2d3d"/></svg>
</div>
<div class="row" style="top:355.10px">
<div class="c ctr" style="left:0.0px;width:64.4px;color:#333">452</div>
<div class="c ctr" style="left:64.4px;width:139.8px;color:#444">PJ20182200105</div>
<div class="c" style="left:208.3px;width:250.0px;color:#000;font-size:12.6px;letter-spacing:-0.4px;line-height:39.6px">江北省赣江市双创工作管理项目</div>
<div class="c" style="left:462.8px;width:93.8px;color:#e8211d;line-height:41.8px;font-size:11.1px">超期 1366 天</div>
<div class="bar y" style="left:561.3px;width:90px"></div>
<div class="bar g" style="left:561.3px;width:53.9px"></div>
<div class="bar" style="left:561.3px;width:90px;text-align:right">0%</div>
<div class="bar" style="left:561.3px;width:90px">30%</div>
<div class="bar y" style="left:659.3px;width:90px"></div>
<div class="bar g" style="left:659.3px;width:27.0px">0%</div>
<div class="bar g" style="left:757.7px;width:44.8px">30.00</div>
<div class="bar r" style="left:810.6px;width:44.8px">1/1</div>
<div class="bar r" style="left:863.7px;width:45px">0/0</div>
<div class="bar g" style="left:916.8px;width:44.8px;text-align:center">3, 0/0</div>
<div class="c ctr" style="left:965.6px;width:76.8px;color:#444">新建</div>
<svg style="left:1042.4px;top:0" width="42" height="36" viewBox="0 0 42 36"><rect x="32.6" y="8.5" width="8.4" height="2" rx="0.6" fill="#6c7a89"/><rect x="22.4" y="16.3" width="18.6" height="2.2" rx="0.6" fill="#f5b32b"/><rect x="27.2" y="24.9" width="13.8" height="2" rx="0.6" fill="#6c7a89"/></svg>
<svg style="left:1184.2px;top:13.4px" width="12" height="9" viewBox="0 0 12 9"><rect x="0.1" y="0.1" width="2.4" height="2.1" fill="#1f2d3d"/><rect x="0.1" y="3.5" width="2.4" height="2.1" fill="#1f2d3d"/><rect x="0.1" y="6.9" width="2.4" height="2.1" fill="#1f2d3d"/><rect x="4.8" y="0.1" width="2.4" height="2.1" fill="#1f2d3d"/><rect x="4.8" y="3.5" width="2.4" height="2.1" fill="#1f2d3d"/><rect x="4.8" y="6.9" width="2.4" height="2.1" fill="#1f2d3d"/><rect x="9.4" y="0.1" width="2.4" height="2.1" fill="#1f2d3d"/><rect x="9.4" y="3.5" width="2.4" height="2.1" fill="#1f2d3d"/><rect x="9.4" y="6.9" width="2.4" height="2.1" fill="#1f2d3d"/></svg>
</div>
<div class="hl" style="top:59.40px;width:1275px"></div>
<div class="hl" style="top:96.30px;width:1275px"></div>
<div class="hl" style="top:133.20px;width:1275px"></div>
<div class="hl" style="top:170.10px;width:1275px"></div>
<div class="hl" style="top:207.00px;width:1275px"></div>
<div class="hl" style="top:243.90px;width:1275px"></div>
<div class="hl" style="top:280.80px;width:1275px"></div>
<div class="hl" style="top:317.70px;width:1275px"></div>
<div class="hl" style="top:354.60px;width:1275px"></div>
<div class="hl" style="top:391.50px;width:1275px"></div>
<div class="vl" style="left:-0.4px;top:23.0px;height:369.0px"></div>
<div class="vl" style="left:64.0px;top:23.0px;height:369.0px"></div>
<div class="vl" style="left:203.8px;top:23.0px;height:369.0px"></div>
<div class="vl" style="left:458.8px;top:23.0px;height:369.0px"></div>
<div class="vl" style="left:556.6px;top:23.0px;height:369.0px"></div>
<div class="vl" style="left:655.1px;top:23.0px;height:369.0px"></div>
<div class="vl" style="left:753.3px;top:23.0px;height:369.0px"></div>
<div class="vl" style="left:806.0px;top:23.0px;height:369.0px"></div>
<div class="vl" style="left:859.3px;top:23.0px;height:369.0px"></div>
<div class="vl" style="left:912.2px;top:23.0px;height:369.0px"></div>
<div class="vl" style="left:965.2px;top:23.0px;height:369.0px"></div>
<div class="vl" style="left:1042.0px;top:23.0px;height:369.0px"></div>
<div class="vl" style="left:1106.1px;top:23.0px;height:369.0px"></div>
<div class="vl" style="left:1274.0px;top:23.0px;height:369.0px"></div>
</div>
<div class="abs" style="left:632.6px;top:471.9px;font-size:14.2px;line-height:14px;color:#333;white-space:nowrap"><b style="color:#0000a8">1</b> 2</div>
<div class="abs" style="left:0.6px;top:499.4px;width:1284.6px;height:24.4px;border-bottom:1px solid #e2e5ea;box-sizing:border-box">
<div class="stab" style="left:0;width:69.8px;border-top:2px solid #2d8cf0;border-left:none;height:24.6px;line-height:22.6px">项目状态</div>
<div class="stab" style="left:69.8px;width:71px;">项目费用</div>
<div class="stab" style="left:140.8px;width:69.6px;">综合查询</div>
</div>
<div class="abs" style="left:1285.2px;top:41px;width:1px;height:747px;background:#e2e4e7"></div>
<svg style="left:0.0px;top:0.0px" width="1" height="1" viewBox="40.0 39.0 1 1"><path d="M131.22 743.18 A67.0 67.0 0 0 1 112.42 685.32 L140.08 689.70 A39.0 39.0 0 0 0 151.02 723.38 Z" fill="#228b22"/><path d="M112.42 685.32 A67.0 67.0 0 0 1 244.78 685.32 L217.12 689.70 A39.0 39.0 0 0 0 140.08 689.70 Z" fill="#4488bb"/><path d="M244.78 685.32 A67.0 67.0 0 0 1 225.98 743.18 L206.18 723.38 A39.0 39.0 0 0 0 217.12 689.70 Z" fill="#ff4500"/><path d="M126.74 738.70 L132.99 733.54" stroke="#eef2f6" stroke-width="1.05"/><path d="M122.94 733.63 L129.64 729.08" stroke="#eef2f6" stroke-width="1.05"/><path d="M119.62 728.22 L126.72 724.32" stroke="#eef2f6" stroke-width="1.05"/><path d="M116.84 722.53 L124.27 719.31" stroke="#eef2f6" stroke-width="1.05"/><path d="M112.92 710.48 L120.83 708.71" stroke="#eef2f6" stroke-width="1.05"/><path d="M111.83 704.23 L119.87 703.22" stroke="#eef2f6" stroke-width="1.05"/><path d="M111.33 697.91 L119.43 697.66" stroke="#eef2f6" stroke-width="1.05"/><path d="M111.43 691.57 L119.52 692.08" stroke="#eef2f6" stroke-width="1.05"/><path d="M113.41 679.06 L121.26 681.08" stroke="#eef2f6" stroke-width="1.05"/><path d="M115.28 673.00 L122.90 675.75" stroke="#eef2f6" stroke-width="1.05"/><path d="M117.71 667.15 L125.03 670.59" stroke="#eef2f6" stroke-width="1.05"/><path d="M120.67 661.54 L127.64 665.66" stroke="#eef2f6" stroke-width="1.05"/><path d="M128.12 651.29 L134.19 656.65" stroke="#eef2f6" stroke-width="1.05"/><path d="M132.53 646.74 L138.07 652.65" stroke="#eef2f6" stroke-width="1.05"/><path d="M137.35 642.62 L142.32 649.02" stroke="#eef2f6" stroke-width="1.05"/><path d="M142.54 638.98 L146.88 645.82" stroke="#eef2f6" stroke-width="1.05"/><path d="M153.83 633.23 L156.81 640.76" stroke="#eef2f6" stroke-width="1.05"/><path d="M159.82 631.17 L162.08 638.95" stroke="#eef2f6" stroke-width="1.05"/><path d="M165.99 629.69 L167.51 637.65" stroke="#eef2f6" stroke-width="1.05"/><path d="M172.27 628.80 L173.03 636.86" stroke="#eef2f6" stroke-width="1.05"/><path d="M184.93 628.80 L184.17 636.86" stroke="#eef2f6" stroke-width="1.05"/><path d="M191.21 629.69 L189.69 637.65" stroke="#eef2f6" stroke-width="1.05"/><path d="M197.38 631.17 L195.12 638.95" stroke="#eef2f6" stroke-width="1.05"/><path d="M203.37 633.23 L200.39 640.76" stroke="#eef2f6" stroke-width="1.05"/><path d="M214.66 638.98 L210.32 645.82" stroke="#eef2f6" stroke-width="1.05"/><path d="M219.85 642.62 L214.88 649.02" stroke="#eef2f6" stroke-width="1.05"/><path d="M224.67 646.74 L219.13 652.65" stroke="#eef2f6" stroke-width="1.05"/><path d="M229.08 651.29 L223.01 656.65" stroke="#eef2f6" stroke-width="1.05"/><path d="M236.53 661.54 L229.56 665.66" stroke="#eef2f6" stroke-width="1.05"/><path d="M239.49 667.15 L232.17 670.59" stroke="#eef2f6" stroke-width="1.05"/><path d="M241.92 673.00 L234.30 675.75" stroke="#eef2f6" stroke-width="1.05"/><path d="M243.79 679.06 L235.94 681.08" stroke="#eef2f6" stroke-width="1.05"/><path d="M245.77 691.57 L237.68 692.08" stroke="#eef2f6" stroke-width="1.05"/><path d="M245.87 697.91 L237.77 697.66" stroke="#eef2f6" stroke-width="1.05"/><path d="M245.37 704.23 L237.33 703.22" stroke="#eef2f6" stroke-width="1.05"/><path d="M244.28 710.48 L236.37 708.71" stroke="#eef2f6" stroke-width="1.05"/><path d="M240.36 722.53 L232.93 719.31" stroke="#eef2f6" stroke-width="1.05"/><path d="M237.58 728.22 L230.48 724.32" stroke="#eef2f6" stroke-width="1.05"/><path d="M234.26 733.63 L227.56 729.08" stroke="#eef2f6" stroke-width="1.05"/><path d="M230.46 738.70 L224.21 733.54" stroke="#eef2f6" stroke-width="1.05"/><path d="M188.92 685.48 L173.44 690.64 L140.70 733.70 L183.76 700.96 Z" fill="#228b22"/></svg>
<div class="abs" style="left:108.9px;top:622.7px;width:60px;text-align:center;font-size:13.7px;letter-spacing:-0.3px;line-height:16px;color:#444">采购</div>
<div class="abs" style="left:89.0px;top:650.6px;width:100px;text-align:center;font-size:9.1px;line-height:11px;font-weight:bold;color:#000;white-space:nowrap">我主导的项目状态</div>
<svg style="left:0;top:0" width="1" height="1" viewBox="40.0 39.0 1 1"><path d="M181.6 729.6 L181.6 747.8 L179.4 747.8 L179.4 733.2 Q177.4 735.2 174.4 736.5 L174.4 734.3 Q178.3 732.4 180.1 729.6 Z" fill="#228b22"/></svg>
<svg style="left:0;top:0" width="1" height="1" viewBox="40.0 39.0 1 1"><path d="M453.60 695.30 L453.60 634.60 A60.7 60.7 0 0 1 508.81 670.08 Z" fill="#ff7f50"/><path d="M453.60 695.30 L508.81 670.08 A60.7 60.7 0 0 1 513.68 686.66 Z" fill="#87cefa"/><path d="M453.60 695.30 L513.68 686.66 A60.7 60.7 0 0 1 513.68 703.94 Z" fill="#da70d6"/><path d="M453.60 695.30 L513.68 703.94 A60.7 60.7 0 0 1 508.81 720.52 Z" fill="#32cd32"/><path d="M453.60 695.30 L508.81 720.52 A60.7 60.7 0 0 1 470.70 753.54 Z" fill="#6495ed"/><path d="M453.60 695.30 L470.70 753.54 A60.7 60.7 0 0 1 453.60 756.00 Z" fill="#ff69b4"/><path d="M453.60 695.30 L453.60 756.00 A60.7 60.7 0 0 1 420.78 644.24 Z" fill="#ba55d3"/><path d="M453.60 695.30 L420.78 644.24 A60.7 60.7 0 0 1 436.50 637.06 Z" fill="#cd5c5c"/><path d="M453.60 695.30 L436.50 637.06 A60.7 60.7 0 0 1 453.60 634.60 Z" fill="#ffa500"/><polyline points="487.9,643.9 493.0,640.4 506.4,640.4" fill="none" stroke="#ff7f50" stroke-width="0.95"/><polyline points="512.6,678.9 515.6,677.2 528.0,677.2" fill="none" stroke="#87cefa" stroke-width="0.95"/><polyline points="514.6,695.3 531.0,695.3" fill="none" stroke="#da70d6" stroke-width="0.95"/><polyline points="512.5,711.8 515.6,713.4 531.0,713.4" fill="none" stroke="#32cd32" stroke-width="0.95"/><polyline points="494.0,740.6 502.3,744.7 518.7,745.3" fill="none" stroke="#6495ed" stroke-width="0.95"/><polyline points="462.2,755.0 501.2,760.5 510.5,760.5" fill="none" stroke="#ff69b4" stroke-width="0.95"/><polyline points="394.3,712.8 389.2,716.5 376.8,716.5" fill="none" stroke="#ba55d3" stroke-width="0.95"/><polyline points="428.2,640.8 416.9,641.9 400.5,641.9" fill="none" stroke="#cd5c5c" stroke-width="0.95"/><polyline points="444.7,635.7 443.7,630.6 431.3,630.6" fill="none" stroke="#ffa500" stroke-width="0.95"/><path d="M728.80 695.30 L728.80 634.60 A60.7 60.7 0 0 1 748.51 637.89 Z" fill="#ff7f50"/><path d="M728.80 695.30 L748.51 637.89 A60.7 60.7 0 0 1 738.79 755.17 Z" fill="#87cefa"/><path d="M728.80 695.30 L738.79 755.17 A60.7 60.7 0 0 1 699.91 748.68 Z" fill="#da70d6"/><path d="M728.80 695.30 L699.91 748.68 A60.7 60.7 0 0 1 684.14 736.41 Z" fill="#32cd32"/><path d="M728.80 695.30 L684.14 736.41 A60.7 60.7 0 0 1 673.21 719.68 Z" fill="#6495ed"/><path d="M728.80 695.30 L673.21 719.68 A60.7 60.7 0 0 1 668.31 700.31 Z" fill="#ff69b4"/><path d="M728.80 695.30 L668.31 700.31 A60.7 60.7 0 0 1 669.96 680.40 Z" fill="#ba55d3"/><path d="M728.80 695.30 L669.96 680.40 A60.7 60.7 0 0 1 709.09 637.89 Z" fill="#cd5c5c"/><path d="M728.80 695.30 L709.09 637.89 A60.7 60.7 0 0 1 728.80 634.60 Z" fill="#ffa500"/><polyline points="737.6,635.7 740.1,630.6 752.4,630.6" fill="none" stroke="#ff7f50" stroke-width="0.95"/><polyline points="789.5,700.5 805.9,700.5" fill="none" stroke="#87cefa" stroke-width="0.95"/><polyline points="715.4,756.0 688.7,760.1 675.3,760.5" fill="none" stroke="#da70d6" stroke-width="0.95"/><polyline points="690.8,743.7 677.4,747.2 664.0,747.2" fill="none" stroke="#32cd32" stroke-width="0.95"/><polyline points="677.4,728.9 669.2,731.7 656.2,731.7" fill="none" stroke="#6495ed" stroke-width="0.95"/><polyline points="669.8,710.3 664.0,711.8 651.3,711.8" fill="none" stroke="#ff69b4" stroke-width="0.95"/><polyline points="668.1,690.6 651.3,690.2" fill="none" stroke="#ba55d3" stroke-width="0.95"/><polyline points="684.6,654.2 680.5,651.1 666.1,651.1" fill="none" stroke="#cd5c5c" stroke-width="0.95"/><polyline points="719.1,635.7 717.5,631.2 704.1,631.2" fill="none" stroke="#ffa500" stroke-width="0.95"/></svg>
<div class="pl" style="color:#ff7f50;top:596.4px;left:471.0px;width:29.0px;text-align:left;">新建</div>
<div class="pl" style="color:#87cefa;top:633.0px;left:493.5px;width:46.5px;text-align:left;">客户验收</div>
<div class="pl" style="color:#da70d6;top:651.0px;left:496.4px;width:33.6px;text-align:left;">装配</div>
<div class="pl" style="color:#32cd32;top:669.0px;left:496.4px;width:33.6px;text-align:left;">设计</div>
<div class="pl" style="color:#6495ed;top:700.4px;left:484.4px;width:35.6px;text-align:left;">受理</div>
<div class="pl" style="color:#ff69b4;top:715.8px;left:472.0px;width:38.0px;text-align:left;">删除</div>
<div class="pl" style="color:#ba55d3;top:671.8px;left:260.0px;width:53.6px;text-align:right;">处理中</div>
<div class="pl" style="color:#cd5c5c;top:597.6px;left:280.0px;width:60.3px;text-align:right;">现场调试</div>
<div class="pl" style="color:#ffa500;top:586.4px;left:320.0px;width:46.0px;text-align:right;">采购</div>
<div class="pl" style="color:#ff7f50;top:586.4px;left:717.2px;width:42.8px;text-align:left;">采购</div>
<div class="pl" style="color:#87cefa;top:656.2px;left:771.6px;width:48.4px;text-align:left;">处理中</div>
<div class="pl" style="color:#da70d6;top:715.8px;left:560.0px;width:54.0px;text-align:right;">客户验收</div>
<div class="pl" style="color:#32cd32;top:702.0px;left:560.0px;width:38.0px;text-align:right;">删除</div>
<div class="pl" style="color:#6495ed;top:687.5px;left:560.0px;width:29.4px;text-align:right;">设计</div>
<div class="pl" style="color:#ff69b4;top:667.0px;left:560.0px;width:24.8px;text-align:right;">受理</div>
<div class="pl" style="color:#ba55d3;top:645.4px;left:560.4px;width:30.0px;text-align:right;overflow:hidden;direction:rtl;">现场调试</div>
<div class="pl" style="color:#cd5c5c;top:607.0px;left:560.0px;width:40.4px;text-align:right;">新建</div>
<div class="pl" style="color:#ffa500;top:586.4px;left:600.0px;width:39.2px;text-align:right;">装配</div>
<div class="abs" style="left:363.8px;top:650.8px;width:100px;text-align:center;font-size:9.1px;line-height:11px;font-weight:bold;color:#000;white-space:nowrap">我参与的项目状态</div>
<div class="abs" style="left:638.6px;top:650.8px;width:100px;text-align:center;font-size:9.1px;line-height:11px;font-weight:bold;color:#000;white-space:nowrap">我立项的项目状态</div>
<div class="btn" style="left:1341.0px;top:44.0px;width:98.8px;height:22.7px;line-height:25px;font-weight:500;border-radius:5px">主导的项目</div>
<div class="abs" style="left:1290.0px;top:70.3px;width:199.2px;height:22.9px;background:#eee;text-align:center;line-height:22.6px;font-weight:bold;color:#000;font-size:10.9px">按状态分类</div>
<div class="btn" style="left:1358.0px;top:95.1px;width:64px;height:22px;line-height:24.2px;font-weight:500;">新建</div>
<div class="hl" style="left:1290.0px;top:119.0px;width:199.2px"></div>
<div class="btn" style="left:1358.0px;top:122.1px;width:64px;height:22px;line-height:24.2px;font-weight:500;">计划</div>
<div class="hl" style="left:1290.0px;top:146.0px;width:199.2px"></div>
<div class="btn" style="left:1358.0px;top:149.1px;width:64px;height:22px;line-height:24.2px;font-weight:500;">评审</div>
<div class="hl" style="left:1290.0px;top:173.0px;width:199.2px"></div>
<div class="btn" style="left:1358.0px;top:176.1px;width:64px;height:22px;line-height:24.2px;font-weight:500;">商机立项</div>
<div class="hl" style="left:1290.0px;top:200.0px;width:199.2px"></div>
<div class="btn" style="left:1358.0px;top:203.1px;width:64px;height:22px;line-height:24.2px;font-weight:500;">设计</div>
<div class="hl" style="left:1290.0px;top:227.0px;width:199.2px"></div>
<div class="btn" style="left:1358.0px;top:230.1px;width:64px;height:22px;line-height:24.2px;font-weight:500;">通过</div>
<div class="hl" style="left:1290.0px;top:254.0px;width:199.2px"></div>
<div class="btn" style="left:1358.0px;top:257.1px;width:64px;height:22px;line-height:24.2px;font-weight:500;">已签合同</div>
<div class="hl" style="left:1290.0px;top:281.0px;width:199.2px"></div>
<div class="btn" style="left:1358.0px;top:284.1px;width:64px;height:22px;line-height:24.2px;font-weight:500;text-align:left;text-indent:6px;">中标未签合同</div>
<div class="hl" style="left:1290.0px;top:308.0px;width:199.2px"></div>
<div class="btn" style="left:1358.0px;top:311.1px;width:64px;height:22px;line-height:24.2px;font-weight:500;">采购</div>
<div class="hl" style="left:1290.0px;top:335.0px;width:199.2px"></div>
<div class="btn" style="left:1358.0px;top:338.1px;width:64px;height:22px;line-height:24.2px;font-weight:500;">受理</div>
<div class="hl" style="left:1290.0px;top:362.0px;width:199.2px"></div>
<div class="btn" style="left:1358.0px;top:365.1px;width:64px;height:22px;line-height:24.2px;font-weight:500;">处理中</div>
<div class="hl" style="left:1290.0px;top:389.0px;width:199.2px"></div>
<div class="btn" style="left:1358.0px;top:392.1px;width:64px;height:22px;line-height:24.2px;font-weight:500;">装配</div>
<div class="hl" style="left:1290.0px;top:416.0px;width:199.2px"></div>
<div class="btn" style="left:1358.0px;top:419.1px;width:64px;height:22px;line-height:24.2px;font-weight:500;">测试</div>
<div class="hl" style="left:1290.0px;top:443.0px;width:199.2px"></div>
<div class="btn" style="left:1358.0px;top:446.1px;width:64px;height:22px;line-height:24.2px;font-weight:500;">调试</div>
<div class="hl" style="left:1290.0px;top:470.0px;width:199.2px"></div>
<div class="btn" style="left:1358.0px;top:473.1px;width:64px;height:22px;line-height:24.2px;font-weight:500;">预验收</div>
<div class="hl" style="left:1290.0px;top:497.0px;width:199.2px"></div>
<div class="btn" style="left:1358.0px;top:500.1px;width:64px;height:22px;line-height:24.2px;font-weight:500;">现场调试</div>
<div class="hl" style="left:1290.0px;top:524.0px;width:199.2px"></div>
<div class="btn" style="left:1358.0px;top:527.1px;width:64px;height:22px;line-height:24.2px;font-weight:500;">验收</div>
<div class="hl" style="left:1290.0px;top:551.0px;width:199.2px"></div>
<div class="btn" style="left:1358.0px;top:554.1px;width:64px;height:22px;line-height:24.2px;font-weight:500;">结案</div>
<div class="hl" style="left:1290.0px;top:578.0px;width:199.2px"></div>
<div class="btn" style="left:1358.0px;top:581.1px;width:64px;height:22px;line-height:24.2px;font-weight:500;">客户验收</div>
<div class="hl" style="left:1290.0px;top:605.0px;width:199.2px"></div>
<div class="btn" style="left:1358.0px;top:608.1px;width:64px;height:22px;line-height:24.2px;font-weight:500;">拖期</div>
<div class="hl" style="left:1290.0px;top:632.0px;width:199.2px"></div>
<div class="btn" style="left:1358.0px;top:635.1px;width:64px;height:22px;line-height:24.2px;font-weight:500;">取消</div>
<div class="hl" style="left:1290.0px;top:659.0px;width:199.2px"></div>
<div class="btn" style="left:1358.0px;top:662.1px;width:64px;height:22px;line-height:24.2px;font-weight:500;">挂起</div>
<div class="hl" style="left:1290.0px;top:686.0px;width:199.2px"></div>
<div class="btn" style="left:1358.0px;top:689.1px;width:64px;height:22px;line-height:24.2px;font-weight:500;">拒绝</div>
<div class="hl" style="left:1290.0px;top:713.0px;width:199.2px"></div>
<div class="vl" style="left:1290.0px;top:92.5px;height:621.0px"></div>
<div class="vl" style="left:1488.2px;top:92.5px;height:621.0px"></div>
<div class="abs" style="left:1495.0px;top:41.4px;width:12px;height:746px;background:#fcfcfc"></div>
<div class="abs" style="left:1496.8px;top:61.8px;width:8.2px;height:651.6px;background:#8a8a8a;border-radius:4.1px"></div>
<svg style="left:1496.4px;top:48.6px" width="9" height="7" viewBox="0 0 9 7"><path d="M0 6.2 L4.5 0 L9 6.2 Z" fill="#8a8a8a"/></svg>
<svg style="left:1496.4px;top:773.8px" width="9" height="7" viewBox="0 0 9 7"><path d="M0 0 L9 0 L4.5 6.4 Z" fill="#8a8a8a"/></svg>
<div class="abs" style="left:-1px;top:0;width:1509px;height:1px;background:#10563c;opacity:0.42"></div>
<div class="abs" style="left:0;top:786.8px;width:1507px;height:1.4px;background:#6f9c8a"></div>
</div>
<div class="abs" style="left:40px;top:47px;width:1px;height:780px;background:#10563c;opacity:0.3"></div>
<div class="abs" style="left:40px;top:47px;width:1px;height:58px;background:#dd4b39;opacity:0.35"></div>
</div></body></html>
